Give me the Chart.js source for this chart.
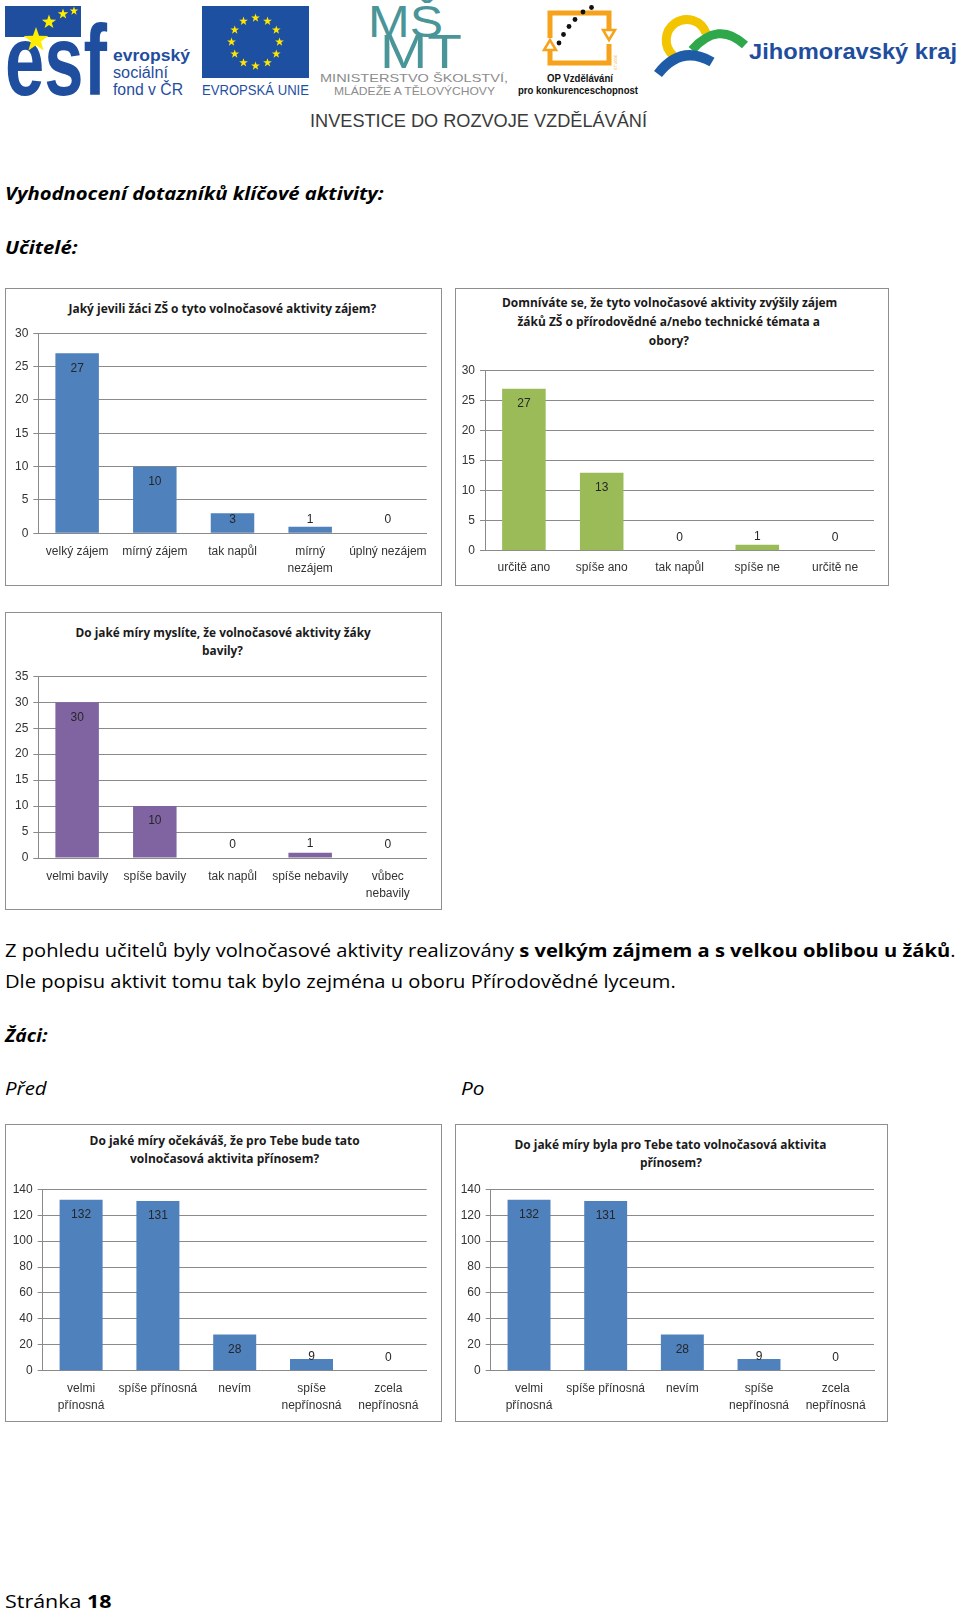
<!DOCTYPE html>
<html><head><meta charset="utf-8">
<script src="https://cdn.jsdelivr.net/npm/chart.js@4.4.1/dist/chart.umd.min.js"></script>
<style>
html,body{margin:0;padding:0;background:#fff;}
body{width:960px;height:1613px;position:relative;overflow:hidden;font-family:"Open Sans","Noto Sans",sans-serif;color:#000;}
.t{position:absolute;white-space:nowrap;line-height:1;transform-origin:0 0;}
.ct{position:absolute;white-space:nowrap;line-height:1;font-family:"Open Sans","Noto Sans",sans-serif;font-weight:700;color:#1a1a1a;transform-origin:50% 50%;}
.box{position:absolute;box-sizing:border-box;border:1.5px solid #8f8f8f;pointer-events:none;z-index:2;}
canvas{position:absolute;z-index:1;}
</style></head>
<body>
<svg id="hdr" width="960" height="135" style="position:absolute;left:0;top:0" xmlns="http://www.w3.org/2000/svg" font-family="'Liberation Sans', Arial, sans-serif">
  <!-- ESF -->
  <rect x="5" y="6" width="76" height="31" fill="#1F4E9F"/>
  <text x="5" y="95" font-weight="bold" font-size="100" textLength="102" lengthAdjust="spacingAndGlyphs" fill="#1F4E9F">esf</text>
  <g id="esfStars" fill="#FFED00"></g>
  <text x="113" y="61" font-weight="bold" font-size="16" textLength="77" lengthAdjust="spacingAndGlyphs" fill="#1F4E9F">evropský</text>
  <text x="113" y="78" font-size="16" textLength="55" lengthAdjust="spacingAndGlyphs" fill="#1F4E9F">sociální</text>
  <text x="113" y="95" font-size="16" textLength="70" lengthAdjust="spacingAndGlyphs" fill="#1F4E9F">fond v ČR</text>
  <!-- EU -->
  <rect x="202" y="6" width="107" height="72" fill="#1E50A2"/>
  <g id="euStars" fill="#FFE600"></g>
  <text x="202" y="95" font-size="14" textLength="107" lengthAdjust="spacingAndGlyphs" fill="#1E50A2">EVROPSKÁ UNIE</text>
  <!-- MSMT -->
  <text x="368" y="37" font-size="44" textLength="75" lengthAdjust="spacingAndGlyphs" fill="#4A9598">MŠ</text>
  <text x="380" y="68" font-size="48" textLength="82" lengthAdjust="spacingAndGlyphs" fill="#4A9598">MT</text>
  <text x="320" y="82" font-size="11.5" textLength="188" lengthAdjust="spacingAndGlyphs" fill="#8C8C8C">MINISTERSTVO ŠKOLSTVÍ,</text>
  <text x="334" y="95" font-size="11.5" textLength="161" lengthAdjust="spacingAndGlyphs" fill="#8C8C8C">MLÁDEŽE A TĚLOVÝCHOVY</text>
  <!-- OP -->
  <path d="M550,38 V13 H609 V29" fill="none" stroke="#F7A21B" stroke-width="5"/>
  <polygon points="603,30 615,30 609,40" fill="#fff" stroke="#F7A21B" stroke-width="2.5"/>
  <path d="M609,44 V63 H550 V51" fill="none" stroke="#F7A21B" stroke-width="5"/>
  <polygon points="544,50 556,50 550,40" fill="#fff" stroke="#F7A21B" stroke-width="2.5"/>
  <g fill="#111"><circle cx="559" cy="43" r="2.4"/><circle cx="563.5" cy="34.5" r="2.4"/><circle cx="569" cy="26.5" r="2.4"/><circle cx="575" cy="19.5" r="2.4"/><circle cx="583" cy="12" r="2.4"/><circle cx="591.5" cy="7.5" r="2.4"/></g>
  <text x="0" y="0" font-size="4" fill="#F7A21B" transform="translate(614,55) rotate(90)">2007-13</text>
  <text x="580" y="82" font-weight="bold" font-size="10" text-anchor="middle" textLength="66" lengthAdjust="spacingAndGlyphs" fill="#111">OP Vzdělávání</text>
  <text x="578" y="94" font-weight="bold" font-size="10" text-anchor="middle" textLength="120" lengthAdjust="spacingAndGlyphs" fill="#111">pro konkurenceschopnost</text>
  <!-- JMK -->
  <path d="M706.1,33.3 A20.5,20.5 0 1 0 673.5,55.7" fill="none" stroke="#F2C500" stroke-width="9"/>
  <path d="M692,50 Q718,20 745,45" fill="none" stroke="#2EA84A" stroke-width="9"/>
  <path d="M658,74 Q681,44 712,62" fill="none" stroke="#1F5CA8" stroke-width="10"/>
  <text x="749" y="59" font-weight="bold" font-size="22" textLength="208" lengthAdjust="spacingAndGlyphs" fill="#1F4E9F">Jihomoravský kraj</text>
  <text x="310" y="127" font-size="18" textLength="337" lengthAdjust="spacingAndGlyphs" fill="#3a3a3a">INVESTICE DO ROZVOJE VZDĚLÁVÁNÍ</text>
</svg>

<div class="t" data-w="379" data-cy="194" style="left:5px;font-size:18px;font-weight:700;font-style:italic;">Vyhodnocení dotazníků klíčové aktivity:</div>
<div class="t" data-w="72" data-cy="248" style="left:5px;font-size:18px;font-weight:700;font-style:italic;">Učitelé:</div>
<div class="t" data-w="951" data-cy="951" style="left:5px;font-size:18px;">Z pohledu učitelů byly volnočasové aktivity realizovány <b>s velkým zájmem a s velkou oblibou u žáků</b>.</div>
<div class="t" data-w="671" data-cy="982" style="left:5px;font-size:18px;">Dle popisu aktivit tomu tak bylo zejména u oboru Přírodovědné lyceum.</div>
<div class="t" data-w="43" data-cy="1036" style="left:5px;font-size:18px;font-weight:700;font-style:italic;">Žáci:</div>
<div class="t" data-w="42" data-cy="1089" style="left:5px;font-size:18px;font-style:italic;">Před</div>
<div class="t" data-w="23" data-cy="1089" style="left:461px;font-size:18px;font-style:italic;">Po</div>
<div class="t" data-w="106" data-cy="1602" style="left:5px;font-size:18px;">Stránka <b>18</b></div>

<script>
// ---------------- DATA ----------------
const chart1Title = ['Jaký jevili žáci ZŠ o tyto volnočasové aktivity zájem?'];
const chart1Categories = ['velký zájem', 'mírný zájem', 'tak napůl', ['mírný', 'nezájem'], 'úplný nezájem'];
const chart1Values = [27, 10, 3, 1, 0];
const chart1YMax = 30, chart1YStep = 5;

const chart2Title = ['Domníváte se, že tyto volnočasové aktivity zvýšily zájem', 'žáků ZŠ o přírodovědné a/nebo technické témata a', 'obory?'];
const chart2Categories = ['určitě ano', 'spíše ano', 'tak napůl', 'spíše ne', 'určitě ne'];
const chart2Values = [27, 13, 0, 1, 0];
const chart2YMax = 30, chart2YStep = 5;

const chart3Title = ['Do jaké míry myslíte, že volnočasové aktivity žáky', 'bavily?'];
const chart3Categories = ['velmi bavily', 'spíše bavily', 'tak napůl', 'spíše nebavily', ['vůbec', 'nebavily']];
const chart3Values = [30, 10, 0, 1, 0];
const chart3YMax = 35, chart3YStep = 5;

const chart4Title = ['Do jaké míry očekáváš, že pro Tebe bude tato', 'volnočasová aktivita přínosem?'];
const chart4Categories = [['velmi', 'přínosná'], 'spíše přínosná', 'nevím', ['spíše', 'nepřínosná'], ['zcela', 'nepřínosná']];
const chart4Values = [132, 131, 28, 9, 0];
const chart4YMax = 140, chart4YStep = 20;

const chart5Title = ['Do jaké míry byla pro Tebe tato volnočasová aktivita', 'přínosem?'];
const chart5Categories = [['velmi', 'přínosná'], 'spíše přínosná', 'nevím', ['spíše', 'nepřínosná'], ['zcela', 'nepřínosná']];
const chart5Values = [132, 131, 28, 9, 0];
const chart5YMax = 140, chart5YStep = 20;

// ---------------- LAYOUT / STYLE ----------------
const BLUE = '#4F81BD', GREEN = '#9BBB59', PURPLE = '#8064A2';
const charts = [
  {title: chart1Title, cats: chart1Categories, vals: chart1Values, max: chart1YMax, step: chart1YStep, color: BLUE,
   box: {x: 5, y: 288, w: 437, h: 298}, plot: {l: 38.3, t: 333.3, r: 426.7, b: 533.3},
   tl: {cx: 222.5, w: 308, ys: [309]}, xpad: 10},
  {title: chart2Title, cats: chart2Categories, vals: chart2Values, max: chart2YMax, step: chart2YStep, color: GREEN,
   box: {x: 455, y: 288, w: 434, h: 298}, plot: {l: 485, t: 370.7, r: 874, b: 550.7},
   tl: {cx: 669, w: 335, ys: [303.3, 322.3, 340.7]}, xpad: 9},
  {title: chart3Title, cats: chart3Categories, vals: chart3Values, max: chart3YMax, step: chart3YStep, color: PURPLE,
   box: {x: 5, y: 612, w: 437, h: 298}, plot: {l: 38.3, t: 676.3, r: 426.7, b: 858},
   tl: {cx: 222.5, w: 295, ys: [633, 651.3]}, xpad: 10},
  {title: chart4Title, cats: chart4Categories, vals: chart4Values, max: chart4YMax, step: chart4YStep, color: BLUE,
   box: {x: 5, y: 1124, w: 437, h: 298}, plot: {l: 42.7, t: 1189.3, r: 426.7, b: 1370.7},
   tl: {cx: 224.3, w: 270, ys: [1140.7, 1159.3]}, xpad: 10},
  {title: chart5Title, cats: chart5Categories, vals: chart5Values, max: chart5YMax, step: chart5YStep, color: BLUE,
   box: {x: 455, y: 1124, w: 433, h: 298}, plot: {l: 490.7, t: 1189.3, r: 874, b: 1370.7},
   tl: {cx: 670.8, w: 312, ys: [1145, 1162.7]}, xpad: 10}
];

const FONT = '"Liberation Sans", Arial, sans-serif';
const GRID = '#8a8a8a';
const TXT = '#333333';

const valueLabels = {
  id: 'valueLabels',
  afterDatasetsDraw(chart) {
    const ctx = chart.ctx;
    const meta = chart.getDatasetMeta(0);
    const vals = chart.data.datasets[0].data;
    ctx.save();
    ctx.font = '12px ' + FONT;
    ctx.fillStyle = '#262626';
    ctx.textAlign = 'center';
    ctx.textBaseline = 'middle';
    meta.data.forEach((bar, i) => {
      const y = Math.min(bar.y + 15, bar.base - 13.5);
      ctx.fillText(String(vals[i]), bar.x, y);
    });
    ctx.restore();
  }
};

charts.forEach((c, idx) => {
  const B = c.box, P = c.plot;
  const cv = document.createElement('canvas');
  cv.width = B.w; cv.height = B.h;
  cv.style.left = B.x + 'px'; cv.style.top = B.y + 'px';
  cv.style.width = B.w + 'px'; cv.style.height = B.h + 'px';
  document.body.appendChild(cv);
  const bx = document.createElement('div');
  bx.className = 'box';
  bx.style.left = B.x + 'px'; bx.style.top = B.y + 'px';
  bx.style.width = B.w + 'px'; bx.style.height = B.h + 'px';
  document.body.appendChild(bx);

  new Chart(cv.getContext('2d'), {
    type: 'bar',
    data: {labels: c.cats, datasets: [{data: c.vals, backgroundColor: c.color, borderWidth: 0,
      barPercentage: 0.56, categoryPercentage: 1.0}]},
    options: {
      responsive: false, animation: false, devicePixelRatio: 1,
      layout: {padding: {top: P.t - B.y, right: B.x + B.w - P.r, bottom: 0, left: 0}},
      plugins: {legend: {display: false}, tooltip: {enabled: false}, title: {display: false}},
      scales: {
        x: {
          grid: {display: false, drawTicks: false},
          border: {display: true, color: GRID, width: 1},
          ticks: {color: TXT, font: {family: FONT, size: 12, lineHeight: 1.4}, padding: c.xpad,
                  maxRotation: 0, minRotation: 0, autoSkip: false},
          afterFit(s) { s.height = B.y + B.h - P.b; }
        },
        y: {
          min: 0, max: c.max,
          ticks: {stepSize: c.step, color: TXT, font: {family: FONT, size: 12}, padding: 5},
          grid: {color: GRID, lineWidth: 1, tickLength: 5, drawTicks: true},
          border: {display: true, color: GRID, width: 1},
          afterFit(s) { s.width = P.l - B.x; }
        }
      }
    },
    plugins: [valueLabels]
  });

  // title lines (HTML text)
  const fs = 13;
  const els = c.title.map((line, i) => {
    const d = document.createElement('div');
    d.className = 'ct';
    d.style.fontSize = fs + 'px';
    d.textContent = line;
    d.style.top = (c.tl.ys[i] - fs * 0.531) + 'px';
    document.body.appendChild(d);
    return d;
  });
  c._titleEls = els;
});

function starPts(cx, cy, R) {
  const r = R * 0.4, p = [];
  for (let i = 0; i < 10; i++) {
    const a = -Math.PI / 2 + i * Math.PI / 5, rr = i % 2 ? r : R;
    p.push((cx + rr * Math.cos(a)).toFixed(2) + ',' + (cy + rr * Math.sin(a)).toFixed(2));
  }
  return p.join(' ');
}
const NS = 'http://www.w3.org/2000/svg';
[[36, 40, 13], [49, 22, 7.5], [63, 14, 5.5], [74, 11, 4.5]].forEach(s => {
  const pg = document.createElementNS(NS, 'polygon');
  pg.setAttribute('points', starPts(s[0], s[1], s[2]));
  document.getElementById('esfStars').appendChild(pg);
});
for (let i = 0; i < 12; i++) {
  const a = i * Math.PI / 6;
  const pg = document.createElementNS(NS, 'polygon');
  pg.setAttribute('points', starPts(255.5 + 24 * Math.cos(a), 42 + 24 * Math.sin(a), 4.6));
  document.getElementById('euStars').appendChild(pg);
}

function fitAll() {
  document.querySelectorAll('.t').forEach(el => {
    const fs = parseFloat(el.style.fontSize);
    el.style.top = (parseFloat(el.dataset.cy) - fs * 0.531) + 'px';
    el.style.transform = 'none';
    const nat = el.offsetWidth;
    el.style.transform = 'scaleX(' + (parseFloat(el.dataset.w) / nat) + ')';
  });
  charts.forEach(c => {
    const els = c._titleEls;
    els.forEach(e => e.style.transform = 'none');
    const s = c.tl.w / els[0].offsetWidth;
    els.forEach(e => {
      const nat = e.offsetWidth;
      e.style.left = (c.tl.cx - nat / 2) + 'px';
      e.style.transform = 'scaleX(' + s + ')';
    });
  });
}
fitAll();
if (document.fonts && document.fonts.ready) document.fonts.ready.then(fitAll);
</script>
</body></html>
